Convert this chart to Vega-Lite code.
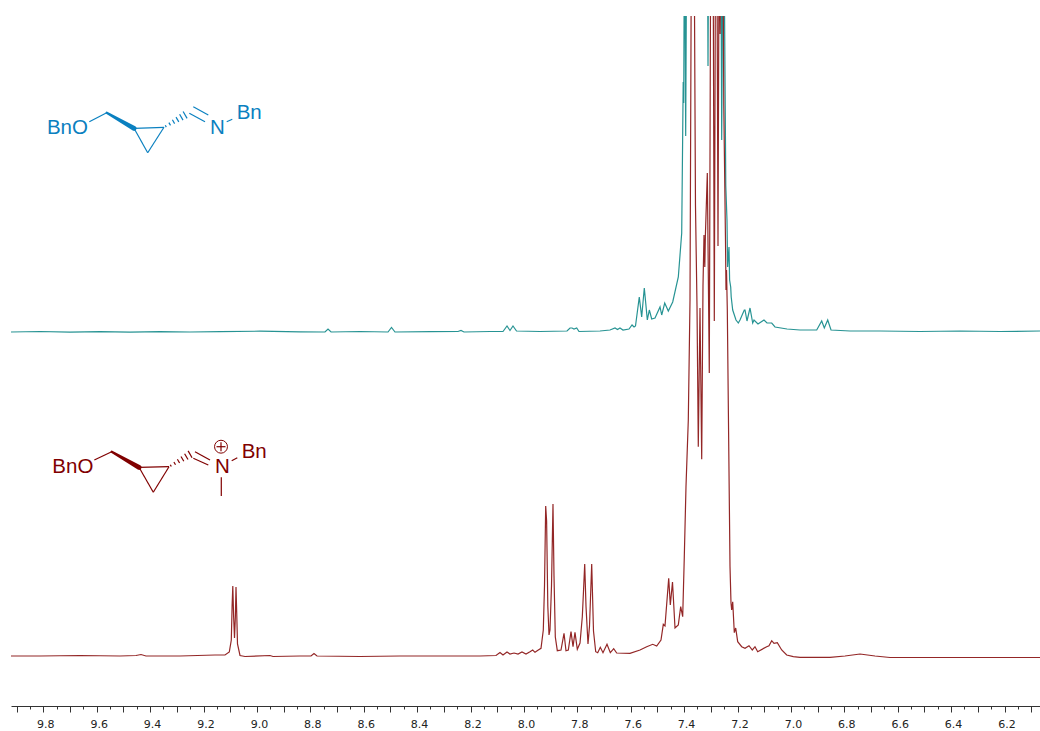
{"$schema":"https://vega.github.io/schema/vega-lite/v6.json","width":1029,"height":690,"autosize":{"type":"none"},"padding":{"left":11,"top":16,"right":0,"bottom":25},"background":"white","view":{"stroke":null},
"resolve":{"axis":{"x":"independent"}},
"datasets":{
"imine":[{"ppm":9.921,"i":374},{"ppm":9.8124,"i":374.5},{"ppm":9.7,"i":373.8},{"ppm":9.5877,"i":374.3},{"ppm":9.4753,"i":373.8},{"ppm":9.3629,"i":374.4},{"ppm":9.2506,"i":374},{"ppm":9.1382,"i":374.4},{"ppm":8.9884,"i":374.8},{"ppm":8.8386,"i":374.2},{"ppm":8.745,"i":374},{"ppm":8.7337,"i":377},{"ppm":8.7222,"i":374},{"ppm":8.6139,"i":374.5},{"ppm":8.509,"i":374},{"ppm":8.4959,"i":378.5},{"ppm":8.4828,"i":374},{"ppm":8.3517,"i":374.4},{"ppm":8.2469,"i":374.5},{"ppm":8.2356,"i":375.5},{"ppm":8.2244,"i":374},{"ppm":8.127,"i":374.5},{"ppm":8.0783,"i":374.5},{"ppm":8.0633,"i":380},{"ppm":8.0521,"i":375.5},{"ppm":8.0409,"i":380},{"ppm":8.0277,"i":375},{"ppm":7.9397,"i":374.5},{"ppm":7.8386,"i":375},{"ppm":7.8273,"i":378},{"ppm":7.8198,"i":378},{"ppm":7.8124,"i":377},{"ppm":7.8023,"i":378},{"ppm":7.7937,"i":374.5},{"ppm":7.715,"i":375},{"ppm":7.6776,"i":376},{"ppm":7.6588,"i":378},{"ppm":7.6495,"i":376.5},{"ppm":7.6402,"i":378},{"ppm":7.6289,"i":376},{"ppm":7.6064,"i":377},{"ppm":7.595,"i":381},{"ppm":7.5875,"i":379},{"ppm":7.5821,"i":380},{"ppm":7.5679,"i":409},{"ppm":7.5589,"i":389},{"ppm":7.5491,"i":418},{"ppm":7.5378,"i":386},{"ppm":7.5303,"i":396},{"ppm":7.5214,"i":387},{"ppm":7.509,"i":388},{"ppm":7.4902,"i":399},{"ppm":7.4839,"i":391},{"ppm":7.4726,"i":403},{"ppm":7.4592,"i":395},{"ppm":7.4427,"i":404},{"ppm":7.4217,"i":429},{"ppm":7.409,"i":473},{"ppm":7.4053,"i":573},{"ppm":7.4034,"i":624},{"ppm":7.4015,"i":603},{"ppm":7.3985,"i":800},{"ppm":7.3941,"i":570},{"ppm":7.3899,"i":800},{"ppm":7.3405,"i":800},{"ppm":7.3131,"i":800},{"ppm":7.3105,"i":640},{"ppm":7.3075,"i":800},{"ppm":7.2626,"i":800},{"ppm":7.2592,"i":566},{"ppm":7.2543,"i":800},{"ppm":7.2487,"i":700},{"ppm":7.2439,"i":520},{"ppm":7.2394,"i":486},{"ppm":7.2371,"i":439},{"ppm":7.2319,"i":459},{"ppm":7.2296,"i":426},{"ppm":7.2255,"i":419},{"ppm":7.2236,"i":409},{"ppm":7.218,"i":396},{"ppm":7.2057,"i":386},{"ppm":7.197,"i":383},{"ppm":7.1907,"i":386},{"ppm":7.1746,"i":396},{"ppm":7.1719,"i":396},{"ppm":7.1645,"i":385},{"ppm":7.1532,"i":398},{"ppm":7.1431,"i":383},{"ppm":7.1382,"i":386},{"ppm":7.1233,"i":382},{"ppm":7.1008,"i":386},{"ppm":7.0895,"i":383},{"ppm":7.0719,"i":383},{"ppm":7.0596,"i":379},{"ppm":7.0146,"i":377},{"ppm":6.966,"i":376},{"ppm":6.9034,"i":376},{"ppm":6.8847,"i":385},{"ppm":6.8749,"i":378},{"ppm":6.8622,"i":386},{"ppm":6.8498,"i":376},{"ppm":6.7787,"i":375},{"ppm":6.6663,"i":375},{"ppm":6.5165,"i":374.5},{"ppm":6.3667,"i":375},{"ppm":6.2169,"i":374.5},{"ppm":6.0671,"i":375}],
"iminium":[{"ppm":9.921,"i":50},{"ppm":9.8124,"i":50},{"ppm":9.6626,"i":50.5},{"ppm":9.5128,"i":50},{"ppm":9.4528,"i":50.5},{"ppm":9.4341,"i":51.5},{"ppm":9.4154,"i":50},{"ppm":9.288,"i":50},{"ppm":9.157,"i":51},{"ppm":9.1195,"i":51},{"ppm":9.1034,"i":54},{"ppm":9.0959,"i":66},{"ppm":9.0929,"i":100},{"ppm":9.0903,"i":120},{"ppm":9.0873,"i":90},{"ppm":9.0839,"i":68},{"ppm":9.0806,"i":90},{"ppm":9.0783,"i":119},{"ppm":9.0753,"i":90},{"ppm":9.0727,"i":62},{"ppm":9.0633,"i":50.5},{"ppm":9.0446,"i":49.5},{"ppm":8.951,"i":50.5},{"ppm":8.9397,"i":49.5},{"ppm":8.8386,"i":50},{"ppm":8.7974,"i":50},{"ppm":8.7862,"i":52.5},{"ppm":8.7749,"i":50},{"ppm":8.6139,"i":49.5},{"ppm":8.4641,"i":50},{"ppm":8.3143,"i":50},{"ppm":8.1644,"i":50},{"ppm":8.1045,"i":50.5},{"ppm":8.0896,"i":53.5},{"ppm":8.0783,"i":51},{"ppm":8.0633,"i":54},{"ppm":8.0521,"i":52},{"ppm":8.0371,"i":53},{"ppm":8.0221,"i":52},{"ppm":8.0072,"i":54},{"ppm":7.9922,"i":52},{"ppm":7.9772,"i":54.3},{"ppm":7.9671,"i":56},{"ppm":7.9585,"i":53.7},{"ppm":7.9461,"i":56},{"ppm":7.936,"i":57.7},{"ppm":7.9274,"i":76},{"ppm":7.9229,"i":120},{"ppm":7.9184,"i":200},{"ppm":7.915,"i":185},{"ppm":7.9105,"i":100},{"ppm":7.906,"i":71},{"ppm":7.9023,"i":76},{"ppm":7.8967,"i":120},{"ppm":7.8911,"i":202},{"ppm":7.8873,"i":130},{"ppm":7.8824,"i":69},{"ppm":7.8749,"i":55.3},{"ppm":7.8611,"i":56},{"ppm":7.8498,"i":72.7},{"ppm":7.8424,"i":55.3},{"ppm":7.8337,"i":56},{"ppm":7.8236,"i":74.3},{"ppm":7.8161,"i":59.3},{"ppm":7.8087,"i":73.7},{"ppm":7.8,"i":56.7},{"ppm":7.7899,"i":63},{"ppm":7.7813,"i":89.3},{"ppm":7.7768,"i":115},{"ppm":7.7723,"i":142},{"ppm":7.7675,"i":100},{"ppm":7.76,"i":62},{"ppm":7.7543,"i":80},{"ppm":7.7461,"i":142},{"ppm":7.7394,"i":75},{"ppm":7.7311,"i":54.3},{"ppm":7.7236,"i":53.3},{"ppm":7.7139,"i":58.7},{"ppm":7.7038,"i":53.3},{"ppm":7.6888,"i":61.7},{"ppm":7.6764,"i":53.3},{"ppm":7.6637,"i":57.3},{"ppm":7.6525,"i":53},{"ppm":7.6027,"i":52.7},{"ppm":7.5652,"i":56},{"ppm":7.5401,"i":59.3},{"ppm":7.5176,"i":61.7},{"ppm":7.5027,"i":60},{"ppm":7.4866,"i":66},{"ppm":7.4779,"i":81.7},{"ppm":7.4716,"i":80},{"ppm":7.4577,"i":127.7},{"ppm":7.4517,"i":101},{"ppm":7.4435,"i":124},{"ppm":7.4341,"i":78},{"ppm":7.4218,"i":81},{"ppm":7.4128,"i":99.3},{"ppm":7.4053,"i":89.3},{"ppm":7.3993,"i":149.3},{"ppm":7.3929,"i":220},{"ppm":7.3843,"i":286},{"ppm":7.3779,"i":406},{"ppm":7.3723,"i":800},{"ppm":7.363,"i":800},{"ppm":7.3574,"i":500},{"ppm":7.3517,"i":400},{"ppm":7.3469,"i":259.3},{"ppm":7.3405,"i":398},{"ppm":7.3341,"i":246.7},{"ppm":7.3293,"i":420},{"ppm":7.3255,"i":471},{"ppm":7.3225,"i":439},{"ppm":7.3203,"i":471},{"ppm":7.3169,"i":500},{"ppm":7.3131,"i":533},{"ppm":7.3057,"i":333},{"ppm":7.3,"i":800},{"ppm":7.2918,"i":800},{"ppm":7.2869,"i":385},{"ppm":7.2821,"i":800},{"ppm":7.2776,"i":800},{"ppm":7.2731,"i":460},{"ppm":7.2686,"i":800},{"ppm":7.2652,"i":672},{"ppm":7.2618,"i":800},{"ppm":7.2551,"i":800},{"ppm":7.2514,"i":600},{"ppm":7.245,"i":465},{"ppm":7.2431,"i":416},{"ppm":7.2412,"i":436},{"ppm":7.2382,"i":396},{"ppm":7.2281,"i":139.3},{"ppm":7.2244,"i":103},{"ppm":7.2218,"i":96},{"ppm":7.218,"i":104.3},{"ppm":7.212,"i":73.3},{"ppm":7.2068,"i":78},{"ppm":7.1993,"i":64.3},{"ppm":7.1843,"i":59.3},{"ppm":7.1719,"i":57.7},{"ppm":7.157,"i":60.3},{"ppm":7.1446,"i":56},{"ppm":7.1345,"i":59.3},{"ppm":7.1244,"i":54.3},{"ppm":7.0907,"i":59.3},{"ppm":7.0821,"i":60.3},{"ppm":7.0719,"i":65.3},{"ppm":7.0633,"i":62.7},{"ppm":7.051,"i":63.3},{"ppm":7.0345,"i":56},{"ppm":7.0158,"i":51},{"ppm":6.9911,"i":49.3},{"ppm":6.966,"i":48.7},{"ppm":6.8536,"i":48.7},{"ppm":6.7974,"i":50},{"ppm":6.7412,"i":52},{"ppm":6.6851,"i":50},{"ppm":6.6289,"i":48.5},{"ppm":6.4791,"i":48.5},{"ppm":6.2918,"i":48.5},{"ppm":6.0671,"i":48.5}],
"bonds":[
{"m":"imine drawing","a":9.6277,"b":584.3,"c":9.5626,"d":593.3},
{"m":"imine drawing","a":9.4603,"b":577.7,"c":9.348,"d":578.7},
{"m":"imine drawing","a":9.348,"b":578.7,"c":9.409,"d":553.3},
{"m":"imine drawing","a":9.409,"b":553.3,"c":9.4603,"d":577.7},
{"m":"imine drawing","a":9.3431,"b":580.7,"c":9.3394,"d":578.9},
{"m":"imine drawing","a":9.3296,"b":583.4,"c":9.3236,"d":580.6},
{"m":"imine drawing","a":9.3165,"b":586.2,"c":9.3083,"d":582.4},
{"m":"imine drawing","a":9.303,"b":588.9,"c":9.2925,"d":584.1},
{"m":"imine drawing","a":9.2895,"b":591.7,"c":9.2768,"d":585.9},
{"m":"imine drawing","a":9.2764,"b":594.55,"c":9.2615,"d":587.65},
{"m":"imine drawing","a":9.2382,"b":599.3,"c":9.1821,"d":591},
{"m":"imine drawing","a":9.2532,"b":592.7,"c":9.1944,"d":584.3},
{"m":"imine drawing","a":9.1131,"b":584.3,"c":9.0922,"d":586.7},
{"m":"iminium","a":9.609,"b":246,"c":9.5439,"d":254.3},
{"m":"iminium","a":9.4416,"b":238.7,"c":9.3292,"d":239.3},
{"m":"iminium","a":9.3292,"b":239.3,"c":9.3881,"d":213.7},
{"m":"iminium","a":9.3881,"b":213.7,"c":9.4416,"d":238.7},
{"m":"iminium","a":9.3244,"b":241.3,"c":9.3207,"d":239.5},
{"m":"iminium","a":9.3109,"b":244,"c":9.3049,"d":241.2},
{"m":"iminium","a":9.2978,"b":246.8,"c":9.2896,"d":243},
{"m":"iminium","a":9.2843,"b":249.5,"c":9.2738,"d":244.7},
{"m":"iminium","a":9.2708,"b":252.3,"c":9.2581,"d":246.5},
{"m":"iminium","a":9.2577,"b":255.15,"c":9.2428,"d":248.25},
{"m":"iminium","a":9.2319,"b":254.3,"c":9.1757,"d":246},
{"m":"iminium","a":9.2382,"b":247.7,"c":9.1821,"d":241},
{"m":"iminium","a":9.0944,"b":245.3,"c":9.0734,"d":248.3},
{"m":"iminium","a":9.1334,"b":228.7,"c":9.1334,"d":210},
{"m":"iminium","a":9.1513,"b":259.3,"c":9.1176,"d":259.3},
{"m":"iminium","a":9.1345,"b":254.8,"c":9.1345,"d":263.8}],
"wedges":[
{"m":"imine drawing","p":9.5626,"i":593.3,"e":0},{"m":"imine drawing","p":9.4603,"i":577.7,"e":1},
{"m":"iminium","p":9.5439,"i":254.3,"e":0},{"m":"iminium","p":9.4416,"i":238.7,"e":1}],
"labels":[
{"m":"imine drawing","p":9.7865,"i":572,"t":"BnO"},{"m":"imine drawing","p":9.1757,"i":572,"t":"N"},{"m":"imine drawing","p":9.0757,"i":586.7,"t":"Bn"},
{"m":"iminium","p":9.7663,"i":232.7,"t":"BnO"},{"m":"iminium","p":9.157,"i":232.7,"t":"N"},{"m":"iminium","p":9.057,"i":247.7,"t":"Bn"}],
"charge":[{"m":"iminium","p":9.1345,"i":259.3}]
},
"layer":[
{"data":{"name":"imine"},"mark":{"type":"line","clip":true,"strokeWidth":1.2,"opacity":0.85},
"encoding":{"x":{"field":"ppm","type":"quantitative","scale":{"domain":[9.921,6.0671],"nice":false,"zero":false},
"axis":{"orient":"bottom","title":null,"grid":false,"values":[9.9,9.8,9.7,9.6,9.5,9.4,9.3,9.2,9.1,9,8.9,8.8,8.7,8.6,8.5,8.4,8.3,8.2,8.1,8,7.9,7.8,7.7,7.6,7.5,7.4,7.3,7.2,7.1,7,6.9,6.8,6.7,6.6,6.5,6.4,6.3,6.2,6.1],
"labelExpr":"round(datum.value*10)%2==0?format(datum.value,'.1f'):''","labelOverlap":false,"labelFlush":false,"labelFont":"DejaVu Sans","labelFontSize":11,"labelColor":"#222","labelOffset":2,"labelPadding":6,"domainColor":"#333","tickColor":"#333","tickSize":6}},
"y":{"field":"i","type":"quantitative","scale":{"domain":[0,690],"nice":false,"zero":false},"axis":null},
"color":{"datum":"imine","type":"nominal","legend":null,"scale":{"domain":["imine","iminium","imine drawing"],"range":["#008080","#800000","#0a80c0"]}}}},
{"data":{"name":"iminium"},"mark":{"type":"line","clip":true,"strokeWidth":1.2,"opacity":0.85},
"encoding":{"x":{"field":"ppm","type":"quantitative","axis":{"orient":"bottom","title":null,"grid":false,"domain":false,"labels":false,"tickColor":"#333","tickSize":3,"values":[9.85,9.75,9.65,9.55,9.45,9.35,9.25,9.15,9.05,8.95,8.85,8.75,8.65,8.55,8.45,8.35,8.25,8.15,8.05,7.95,7.85,7.75,7.65,7.55,7.45,7.35,7.25,7.15,7.05,6.95,6.85,6.75,6.65,6.55,6.45,6.35,6.25,6.15]}},"y":{"field":"i","type":"quantitative"},"color":{"datum":"iminium","type":"nominal"}}},
{"data":{"name":"bonds"},"mark":{"type":"rule","strokeWidth":1.2},
"encoding":{"x":{"field":"a","type":"quantitative","axis":null},"x2":{"field":"c"},"y":{"field":"b","type":"quantitative"},"y2":{"field":"d"},"color":{"field":"m","type":"nominal"}}},
{"data":{"name":"wedges"},"mark":{"type":"trail"},
"encoding":{"x":{"field":"p","type":"quantitative","axis":null},"y":{"field":"i","type":"quantitative"},"size":{"field":"e","type":"quantitative","legend":null,"scale":{"domain":[0,1],"range":[2.2,5]}},"color":{"field":"m","type":"nominal"}}},
{"data":{"name":"labels"},"mark":{"type":"text","align":"left","baseline":"alphabetic","font":"Liberation Sans","fontSize":20.5},
"encoding":{"x":{"field":"p","type":"quantitative","axis":null},"y":{"field":"i","type":"quantitative"},"text":{"field":"t"},"color":{"field":"m","type":"nominal"}}},
{"data":{"name":"charge"},"mark":{"type":"point","filled":false,"size":167,"strokeWidth":1,"opacity":1},
"encoding":{"x":{"field":"p","type":"quantitative","axis":null},"y":{"field":"i","type":"quantitative"},"color":{"field":"m","type":"nominal"}}}
]}
